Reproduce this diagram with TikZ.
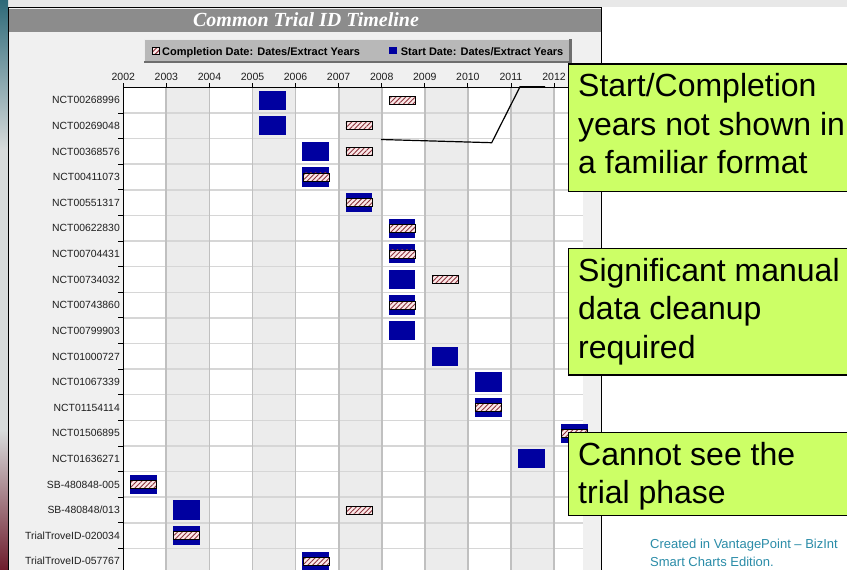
\documentclass[tikz,border=0pt]{standalone}
\usepackage{fontspec}
\setmainfont{Liberation Sans}
\newfontfamily\titlefont{Liberation Serif}
\usetikzlibrary{patterns.meta}
\definecolor{navybar}{RGB}{0,0,160}
\definecolor{hatchbg}{RGB}{250,232,232}
\definecolor{hatchln}{RGB}{140,50,60}
\definecolor{colgrey}{RGB}{236,236,236}
\definecolor{gridv}{RGB}{192,192,192}
\definecolor{gridh}{RGB}{214,214,214}
\definecolor{panelbg}{RGB}{240,240,240}
\definecolor{topgrey}{RGB}{232,232,232}
\definecolor{titlebar}{RGB}{140,140,140}
\definecolor{legendbg}{RGB}{184,184,184}
\definecolor{legenddark}{RGB}{110,110,110}
\definecolor{callgreen}{RGB}{204,255,102}
\definecolor{creditteal}{RGB}{42,140,168}
\definecolor{stripteal}{RGB}{45,105,120}
\definecolor{striplight}{RGB}{216,220,220}
\definecolor{stripred}{RGB}{110,28,44}
\definecolor{labelgrey}{RGB}{30,30,30}
\begin{document}
\begin{tikzpicture}[x=1pt,y=-1pt,
  startbar/.style={fill=navybar},
  hatchfill/.style={pattern={Lines[angle=45,distance=3.4pt,line width=0.9pt]},pattern color=hatchln},
  rowlabel/.style={anchor=base east,inner sep=0pt,text=labelgrey,font=\fontsize{10.4}{12}\selectfont},
  yearlabel/.style={anchor=base,inner sep=0pt,text=labelgrey,font=\fontsize{10.5}{12}\selectfont},
  legendtext/.style={anchor=base west,inner sep=0pt,font=\bfseries\fontsize{11}{13}\selectfont},
  callbox/.style={draw=black,line width=1.4pt,fill=callgreen,anchor=north west,inner sep=0pt,minimum width=300pt},
  calltext/.style={anchor=base west,inner sep=0pt,font=\fontsize{32}{38.5}\selectfont},
  credittext/.style={anchor=base west,inner sep=0pt,text=creditteal,font=\fontsize{13}{18.4}\selectfont},
  callline/.style={draw=black,line width=1.2pt}]
\path[use as bounding box] (0,0) rectangle (847,570);
\begin{scope}
\clip (0,0) rectangle (847,570);
% page background
\fill[white] (0,0) rectangle (847,570);
\fill[topgrey] (0,0) rectangle (847,7);
\shade[top color=stripteal,bottom color=striplight] (0,0) rectangle (8,150);
\fill[striplight] (0,150) rectangle (8,430);
\shade[top color=striplight,bottom color=stripred] (0,430) rectangle (8,570);
% chart panel
\fill[panelbg] (8,7) rectangle (602,575);
\fill[titlebar] (9.3,9.3) rectangle (601,32.3);
\node[anchor=base,inner sep=0pt,text=white,font=\titlefont\bfseries\itshape\fontsize{20}{23}\selectfont] (title) at (306,26.7) {Common Trial ID Timeline};
% legend
\fill[legendbg] (144,39.3) rectangle (571.7,63.3);
\fill[legenddark] (144,60.8) rectangle (571.7,63.3);
\fill[legenddark] (569.2,39.3) rectangle (571.7,63.3);
\draw[white!75!legendbg,line width=0.8pt] (144.4,60.8) -- (144.4,39.7) -- (569.2,39.7);
\fill[hatchbg] (152,47) rectangle (159,54);
\fill[hatchfill] (152,47) rectangle (159,54);
\draw[black,line width=0.6pt] (152,47) rectangle (159,54);
\node[legendtext] (legc) at (162,55) {Completion Date: Dates/Extract Years};
\fill[navybar] (389.3,47) rectangle (396.7,54);
\node[legendtext] (legs) at (400.7,55) {Start Date: Dates/Extract Years};
% plot area
\fill[white] (123.3,87.3) rectangle (583,575);
\foreach \i in {1,3,5,7,9}{
  \fill[colgrey] ({123.3+43.07*\i},87.3) rectangle ({123.3+43.07*(\i+1)},575);
}
\foreach \k in {1,...,19}{
  \draw[gridh,line width=1.5pt] (123.3,{87.3+25.62*\k}) -- (583,{87.3+25.62*\k});
  \draw[black,line width=0.8pt] (118,{87.3+25.62*\k}) -- (123.3,{87.3+25.62*\k});
}
\foreach \i in {1,...,10}{
  \draw[gridv,line width=1.8pt] ({123.3+43.07*\i},87.3) -- ({123.3+43.07*\i},575);
}
\draw[black,line width=1pt] (583,87.3) -- (123.3,87.3) -- (123.3,575);
\foreach \yr [count=\i from 0] in {2002,...,2012}{
  \draw[black,line width=0.8pt] ({123.3+43.07*\i},83) -- ({123.3+43.07*\i},87.3);
  \node[yearlabel] (yr\i) at ({123.3+43.07*\i},80) {\yr};
}
\foreach \lab [count=\r from 0] in {NCT00268996,NCT00269048,NCT00368576,NCT00411073,NCT00551317,NCT00622830,NCT00704431,NCT00734032,NCT00743860,NCT00799903,NCT01000727,NCT01067339,NCT01154114,NCT01506895,NCT01636271,SB-480848-005,SB-480848/013,TrialTroveID-020034,TrialTroveID-057767}{
  \node[rowlabel] (row\r) at (120,{100.11+25.62*\r+3.7}) {\lab};
}
% start bars
\foreach \r/\y in {0/2005,1/2005,2/2006,3/2006,4/2007,5/2008,6/2008,7/2008,8/2008,9/2008,10/2009,11/2010,12/2010,13/2012,14/2011,15/2002,16/2003,17/2003,18/2006}{
  \pgfmathsetmacro\cx{123.3+43.07*(\y-2002)+20.3}
  \pgfmathsetmacro\cy{100.11+25.62*\r}
  \fill[startbar] ({\cx-13.4},{\cy-9.6}) rectangle ({\cx+13.4},{\cy+9.6});
}
% completion bars
\foreach \r/\y in {0/2008,1/2007,2/2007,3/2006,4/2007,5/2008,6/2008,7/2009,8/2008,12/2010,13/2012,15/2002,16/2007,17/2003,18/2006}{
  \pgfmathsetmacro\cx{123.3+43.07*(\y-2002)+20.3}
  \pgfmathsetmacro\cy{100.11+25.62*\r}
  \fill[hatchbg] ({\cx-13},{\cy-4}) rectangle ({\cx+13},{\cy+4});
  \fill[hatchfill] ({\cx-13},{\cy-4}) rectangle ({\cx+13},{\cy+4});
  \draw[black,line width=0.5pt] ({\cx-13},{\cy-4}) rectangle ({\cx+13},{\cy+4});
}
% panel border
\draw[black,line width=1.3pt] (8.5,575) -- (8.5,7.6) -- (601.7,7.6) -- (601.7,575);
% callout connector
\coordinate (ca) at (381,139.5);
\coordinate (cb) at (491.7,142.7);
\coordinate (cc) at (520,86.8);
\coordinate (cd) at (545,86.8);
\draw[callline] (ca) -- (cb) -- (cc) -- (cd);
% callouts
\node[callbox,minimum height=127.7pt] (box1) at (567.5,63.3) {};
\node[calltext] (txt1) at (578,96.7) {\parbox[t]{268pt}{\raggedright Start/Completion\\years not shown in\\a familiar format}};
\node[callbox,minimum height=126.6pt] (box2) at (567.5,247.7) {};
\node[calltext] (txt2) at (578,281) {\parbox[t]{268pt}{\raggedright Significant manual\\data cleanup\\required}};
\node[callbox,minimum height=83.3pt] (box3) at (567.5,431.7) {};
\node[calltext] (txt3) at (578,465) {\parbox[t]{268pt}{\raggedright Cannot see the\\trial phase}};
% credit
\node[credittext] (credit) at (650,548.3) {\parbox[t]{200pt}{\raggedright Created in VantagePoint -- BizInt\\Smart Charts Edition.}};
\end{scope}
\end{tikzpicture}
\end{document}
